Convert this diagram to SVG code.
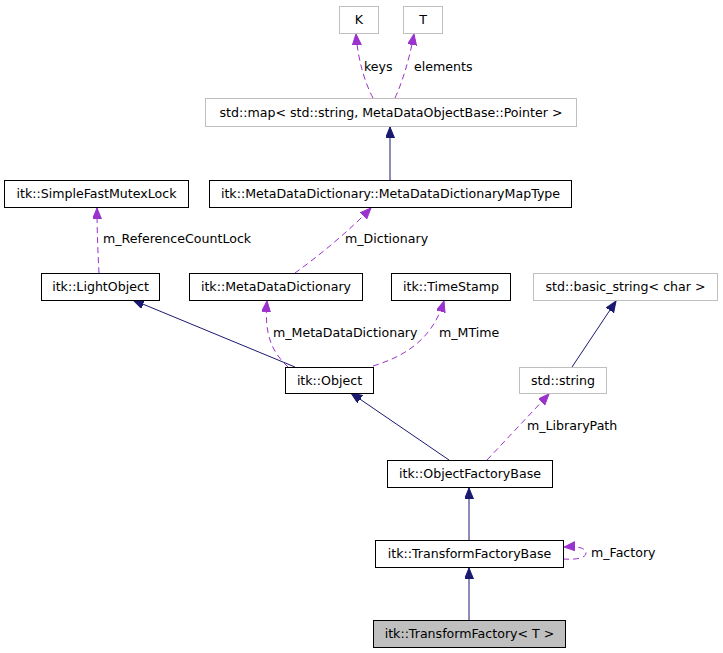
<svg xmlns="http://www.w3.org/2000/svg" width="723" height="653" viewBox="0 0 723 653">
<style>
text { font-family: "DejaVu Sans", "Liberation Sans", sans-serif; font-size: 12.6px; fill: #000; }
.node text { text-anchor: middle; }
.box { fill: #fff; stroke: #000; stroke-width: 1; }
.ext { fill: #fff; stroke: #bfbfbf; stroke-width: 1; }
.cur { fill: #bfbfbf; stroke: #000; stroke-width: 1; }
.inh { fill: none; stroke: #191970; stroke-width: 1; marker-end: url(#ah-inh); }
.use { fill: none; stroke: #9a32cd; stroke-width: 1; stroke-dasharray: 6,4; marker-end: url(#ah-use); }
</style>
<defs>
<marker id="ah-inh" markerUnits="userSpaceOnUse" markerWidth="12" markerHeight="10" refX="11" refY="4.5" orient="auto">
<path d="M0,0 L11,4.5 L0,9 z" fill="#191970" stroke="#191970"/>
</marker>
<marker id="ah-use" markerUnits="userSpaceOnUse" markerWidth="12" markerHeight="10" refX="11" refY="4.5" orient="auto">
<path d="M0,0 L11,4.5 L0,9 z" fill="#9a32cd" stroke="#9a32cd"/>
</marker>
</defs>
<rect width="723" height="653" fill="#fff"/>
<g id="edges">
<path class="use" d="M373,98 C366,85 358,62 356,34"/>
<path class="use" d="M395,98 C401,85 409,62 414,34"/>
<path class="inh" d="M390,180 L390,127"/>
<path class="use" d="M295,273 C320,255 350,230 371,208"/>
<path class="use" d="M99,273 C98,255 97,232 97,208"/>
<path class="inh" d="M295,367 L133,300"/>
<path class="use" d="M288,367 C272,352 264,335 267,301"/>
<path class="use" d="M373,366 C405,356 432,340 444,301"/>
<path class="inh" d="M449,460 L351,393"/>
<path class="inh" d="M572,367 L616,301"/>
<path class="use" d="M487,460 L549,394"/>
<path class="inh" d="M469,540 L469,488"/>
<path class="inh" d="M469,620 L469,568"/>
<path class="use" d="M563,559 C576,560 586,558 586,553 C586,548 578,546 564,547"/>
<text x="364" y="71">keys</text>
<text x="414" y="71">elements</text>
<text x="103" y="243">m_ReferenceCountLock</text>
<text x="345" y="243">m_Dictionary</text>
<text x="273" y="337">m_MetaDataDictionary</text>
<text x="439" y="337">m_MTime</text>
<text x="527" y="430">m_LibraryPath</text>
<text x="591" y="557">m_Factory</text>
</g>
<g id="n_K" class="node"><rect class="ext" x="339.5" y="6.5" width="39" height="27"/><text x="359" y="24">K</text></g>
<g id="n_T" class="node"><rect class="ext" x="403.5" y="6.5" width="39" height="27"/><text x="423" y="24">T</text></g>
<g id="n_map" class="node"><rect class="ext" x="205.5" y="98.5" width="371" height="28"/><text x="391" y="117">std::map&lt; std::string, MetaDataObjectBase::Pointer &gt;</text></g>
<g id="n_maptype" class="node"><rect class="box" x="209.5" y="180.5" width="362" height="27"/><text x="390.5" y="198">itk::MetaDataDictionary::MetaDataDictionaryMapType</text></g>
<g id="n_mutex" class="node"><rect class="box" x="4.5" y="180.5" width="184" height="27"/><text x="96.5" y="198">itk::SimpleFastMutexLock</text></g>
<g id="n_light" class="node"><rect class="box" x="41.5" y="273.5" width="118" height="27"/><text x="100.5" y="291">itk::LightObject</text></g>
<g id="n_mdd" class="node"><rect class="box" x="189.5" y="273.5" width="173" height="27"/><text x="276" y="291">itk::MetaDataDictionary</text></g>
<g id="n_ts" class="node"><rect class="box" x="391.5" y="273.5" width="119" height="27"/><text x="451" y="291">itk::TimeStamp</text></g>
<g id="n_bstr" class="node"><rect class="ext" x="533.5" y="273.5" width="184" height="27"/><text x="625.5" y="291">std::basic_string&lt; char &gt;</text></g>
<g id="n_obj" class="node"><rect class="box" x="285.5" y="367.5" width="88" height="26"/><text x="329.5" y="385">itk::Object</text></g>
<g id="n_str" class="node"><rect class="ext" x="519.5" y="367.5" width="87" height="26"/><text x="563" y="385">std::string</text></g>
<g id="n_ofb" class="node"><rect class="box" x="387.5" y="460.5" width="165" height="27"/><text x="470" y="478">itk::ObjectFactoryBase</text></g>
<g id="n_tfb" class="node"><rect class="box" x="375.5" y="540.5" width="188" height="27"/><text x="469.5" y="558">itk::TransformFactoryBase</text></g>
<g id="n_tf" class="node"><rect class="cur" x="373.5" y="620.5" width="192" height="27"/><text x="469.5" y="638">itk::TransformFactory&lt; T &gt;</text></g>
</svg>
